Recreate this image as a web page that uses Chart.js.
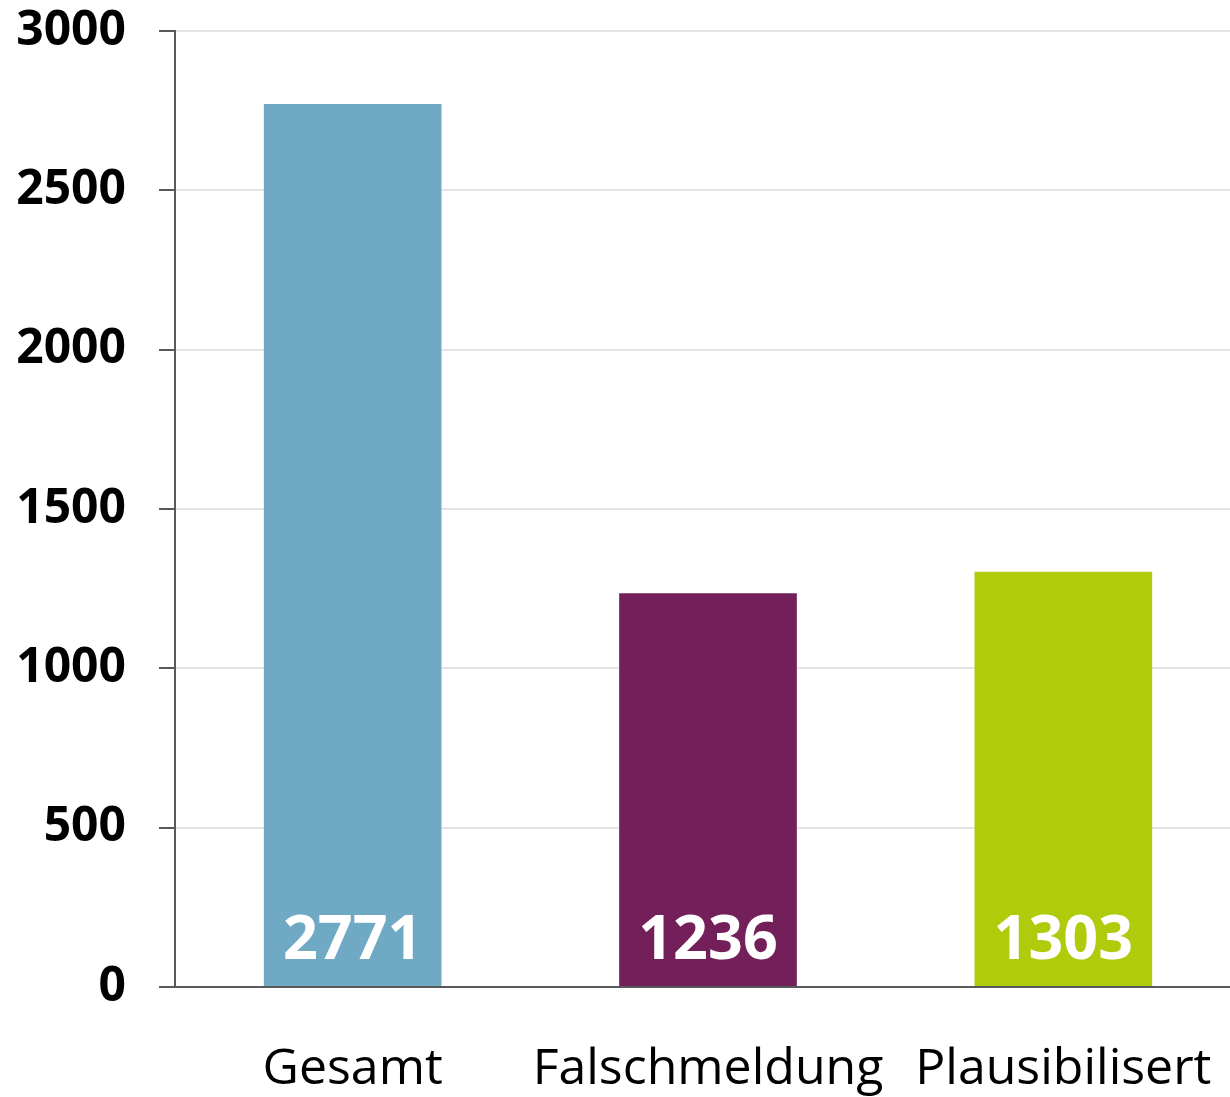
<!DOCTYPE html>
<html>
<head>
<meta charset="utf-8">
<script src="https://cdn.jsdelivr.net/npm/chart.js@4/dist/chart.umd.min.js"></script>
<style>
    html, body { margin: 0; padding: 0; background: #ffffff; overflow: hidden; }
    #wrap { position: absolute; left: 0; top: 0; width: 1241px; height: 1097px; }
</style>
</head>
<body>
<div id="wrap"><canvas id="barChart"></canvas></div>
<script>
const categories = ["Gesamt", "Falschmeldung", "Plausibilisert"];
const counts = [2771, 1236, 1303];
const barColors = ["#70a9c3", "#721f5a", "#b0ca0c"];
const yTicks = [0, 500, 1000, 1500, 2000, 2500, 3000];

const FONT = "'Open Sans', 'Noto Sans', sans-serif";

// white value labels sitting at the foot of each bar
const valueLabels = {
    id: "valueLabels",
    afterDatasetsDraw(chart) {
        const ctx = chart.ctx;
        const meta = chart.getDatasetMeta(0);
        ctx.save();
        ctx.fillStyle = "#ffffff";
        ctx.font = "bold 61px " + FONT;
        ctx.textAlign = "center";
        ctx.textBaseline = "alphabetic";
        meta.data.forEach((bar, i) => {
            ctx.fillText(String(counts[i]), bar.x, bar.base - 27);
        });
        ctx.restore();
    }
};

const ctx = document.getElementById("barChart").getContext("2d");

new Chart(ctx, {
    type: "bar",
    data: {
        labels: categories,
        datasets: [{
            data: counts,
            backgroundColor: barColors,
            borderWidth: 0,
            barPercentage: 0.5,
            categoryPercentage: 1.0
        }]
    },
    options: {
        responsive: true,
        maintainAspectRatio: false,
        animation: false,
        layout: { padding: { top: 31, right: 0, bottom: 0, left: 0 } },
        plugins: {
            legend: { display: false },
            tooltip: { enabled: false }
        },
        scales: {
            x: {
                grid: { display: false },
                border: { display: true, color: "#595959", width: 2 },
                ticks: {
                    color: "#000000",
                    padding: 45,
                    maxRotation: 0,
                    minRotation: 0,
                    autoSkip: false,
                    font: { family: FONT, size: 50 }
                },
                afterFit(scale) {
                    scale.height = 110;
                    scale.paddingLeft = 0;
                    scale.paddingRight = 0;
                }
            },
            y: {
                min: 0,
                max: 3000,
                afterBuildTicks(scale) {
                    scale.ticks = yTicks.map(v => ({ value: v }));
                },
                grid: {
                    color: "#e3e3e3",
                    lineWidth: 2,
                    tickColor: "#595959",
                    tickLength: 16
                },
                border: { display: true, color: "#595959", width: 2 },
                ticks: {
                    color: "#000000",
                    padding: 33,
                    font: { family: FONT, size: 48, weight: "bold" },
                    callback: v => String(v)
                },
                afterFit(scale) {
                    scale.width = 175;
                    scale.paddingTop = 0;
                }
            }
        }
    },
    plugins: [valueLabels]
});
</script>
</body>
</html>
